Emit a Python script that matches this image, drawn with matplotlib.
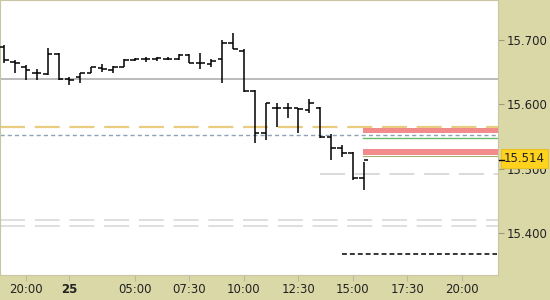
import numpy as np
import matplotlib
matplotlib.use("Agg")
import matplotlib.pyplot as plt
import matplotlib.transforms as mtransforms

##### bar data (30 min OHLC) #####
opens = [15.689, 15.666, 15.658, 15.649, 15.647, 15.678, 15.639, 15.642, 15.649, 15.656,
         15.653, 15.658, 15.669, 15.670, 15.670, 15.670, 15.670, 15.677, 15.664, 15.663,
         15.670, 15.695, 15.683, 15.621, 15.555, 15.594, 15.594, 15.594, 15.591, 15.594,
         15.549, 15.532, 15.524, 15.486]
highs = [15.692, 15.669, 15.661, 15.655, 15.688, 15.680, 15.642, 15.649, 15.658, 15.663,
         15.660, 15.670, 15.672, 15.674, 15.674, 15.674, 15.678, 15.678, 15.680, 15.670,
         15.700, 15.711, 15.686, 15.622, 15.602, 15.602, 15.602, 15.594, 15.608, 15.596,
         15.554, 15.537, 15.526, 15.510]
lows = [15.664, 15.649, 15.638, 15.638, 15.646, 15.638, 15.630, 15.633, 15.649, 15.650,
        15.649, 15.658, 15.667, 15.666, 15.667, 15.669, 15.669, 15.664, 15.655, 15.658,
        15.633, 15.686, 15.619, 15.540, 15.545, 15.565, 15.579, 15.555, 15.587, 15.548,
        15.514, 15.518, 15.482, 15.467]
closes = [15.669, 15.664, 15.653, 15.649, 15.678, 15.639, 15.638, 15.649, 15.658, 15.655,
          15.658, 15.669, 15.670, 15.670, 15.672, 15.670, 15.677, 15.664, 15.664, 15.667,
          15.695, 15.686, 15.621, 15.555, 15.602, 15.594, 15.594, 15.593, 15.602, 15.549,
          15.532, 15.524, 15.486, 15.514]

# time axis (bar index of each label)
tick_pos = [2, 6, 12, 17, 22, 27, 32, 37, 42]
tick_labels = ['20:00', '25', '05:00', '07:30', '10:00', '12:30', '15:00', '17:30', '20:00']

# price axis
price_ticks = [15.4, 15.5, 15.6, 15.7]
last_price = 15.514

# horizontal levels
prev_close = 15.639
yellow_level = 15.565
blue_level = 15.552
grey_level = 15.492
grey_start = 29
low_levels = [15.420, 15.411]
black_level = 15.367
black_start = 31
zone_start = 32.9
red_zones = [(15.555, 15.563), (15.521, 15.530)]
green_level = 15.548

plt.rcParams['lines.scale_dashes'] = False
khaki = '#dbd8a8'

fig = plt.figure(figsize=(5.5, 3), dpi=100)
fig.patch.set_facecolor(khaki)
ax = fig.add_axes([0, 25 / 300, 498 / 550, 275 / 300])
ax.set_facecolor('white')

x = np.arange(len(opens))
xmin, xmax = -0.37, 45.3

# levels
ax.axhline(prev_close, color='#a8a8a8', lw=1.1, zorder=1)
ax.axhline(yellow_level, color='#e9cc80', lw=1.6, dashes=(18, 7), zorder=1)
ax.axhline(blue_level, color='#8ea2b8', lw=1.0, dashes=(3, 2.2), zorder=1)
for lv in low_levels:
    ax.axhline(lv, color='#d6d6d6', lw=1.1, dashes=(18, 7), zorder=1)
ax.plot([grey_start, xmax], [grey_level, grey_level], color='#d0d0d0', lw=1.1,
        dashes=(18, 7), zorder=1)
ax.plot([black_start, xmax - 0.1], [black_level, black_level], color='black', lw=1.1,
        dashes=(3.5, 2.2), zorder=1)
for lo, hi in red_zones:
    ax.fill_between([zone_start, xmax], lo, hi, color='#f28b8b', lw=0, zorder=1.5)
ax.plot([zone_start, xmax], [green_level, green_level], color='#6ab86a', lw=1.0, zorder=1.5)
ax.plot([zone_start, xmax], [red_zones[1][0] - 0.001] * 2, color='#a8b070', lw=0.8, zorder=1.5)

# OHLC bars
tw = 0.42
ax.vlines(x, lows, highs, color='black', lw=1.1, zorder=3)
ax.hlines(opens, x - tw, x, color='black', lw=1.1, zorder=3)
ax.hlines(closes, x, x + tw, color='black', lw=1.1, zorder=3)

ax.set_xlim(xmin, xmax)
ax.set_ylim(15.335, 15.762)

ax.yaxis.tick_right()
ax.set_yticks(price_ticks)
ax.set_yticklabels(['%.3f' % p for p in price_ticks])
ax.set_xticks(tick_pos)
ax.set_xticklabels(tick_labels)
ax.tick_params(axis='y', length=4, width=0.8, color='#9a9a80', pad=2, labelsize=8.5,
               labelcolor='#222222')
ax.tick_params(axis='x', length=4, width=0.8, color='#b8b8a0', pad=1.5, labelsize=8.5,
               labelcolor='#222222')
for lab in ax.get_xticklabels():
    if lab.get_text() == '25':
        lab.set_fontweight('bold')

for s in ax.spines.values():
    s.set_color('#c8c6a0')
    s.set_linewidth(0.8)

# last price marker
trans = mtransforms.blended_transform_factory(ax.transAxes, ax.transData)
ax.text(1.012, last_price + 0.002, '%.3f' % last_price, transform=trans, fontsize=8.5,
        va='center', ha='left', color='#222222', zorder=10, clip_on=False,
        bbox=dict(boxstyle='square,pad=0.25', facecolor='#ffd21e', edgecolor='#e8c020', lw=0.8))
ax.plot([1.002, 1.012], [last_price, last_price], transform=trans, color='black', lw=1,
        clip_on=False, zorder=10)

fig.savefig('out.png', dpi=100, facecolor=khaki)
